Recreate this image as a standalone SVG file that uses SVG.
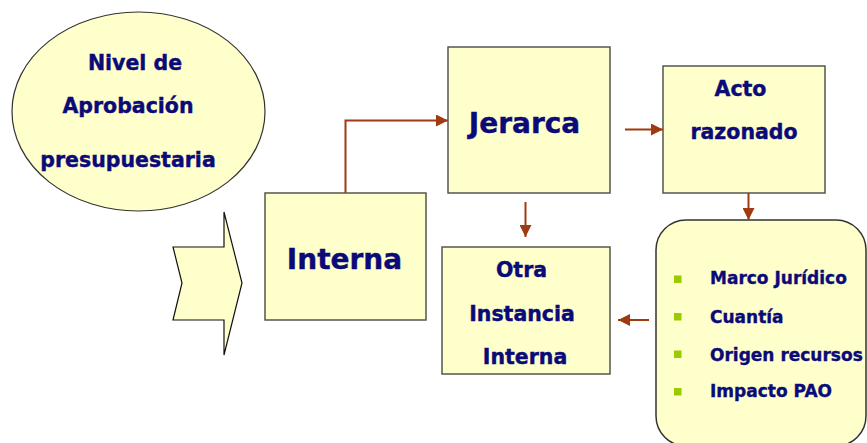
<svg xmlns="http://www.w3.org/2000/svg" width="867" height="443" viewBox="0 0 867 443">
<style>
.box{fill:#FFFFCC;stroke:#555550;stroke-width:1.5}
.t{font-family:"DejaVu Sans",Verdana,sans-serif;font-weight:bold;fill:#0A0A78;stroke:#0A0A78;stroke-width:0.4;text-anchor:middle}
.s20{font-size:20.5px}
.s28{font-size:28px}
.li{font-family:"DejaVu Sans",Verdana,sans-serif;font-weight:bold;fill:#0A0A78;stroke:#0A0A78;stroke-width:0.35;font-size:17px}
.c{fill:none;stroke:#A03A10;stroke-width:2}
.b{fill:#99CC00}
</style>
<defs>
<marker id="ah" markerUnits="userSpaceOnUse" markerWidth="12" markerHeight="12" viewBox="0 0 10 10" refX="10" refY="5" orient="auto">
<path d="M0,0 L10,5 L0,10 z" fill="#A03A10"/>
</marker>
</defs>
<rect width="867" height="443" fill="#FFFFFF"/>
<g id="nivel">
<ellipse class="box" cx="138.5" cy="111.5" rx="126.5" ry="99.5" style="stroke:#333;stroke-width:1.2"/>
<text class="t s20" x="135" y="70">Nivel de</text>
<text class="t s20" x="128" y="113">Aprobación</text>
<text class="t s20" x="128" y="167">presupuestaria</text>
</g>
<g id="chevron">
<polygon class="box" points="173,247 224,247 224,212 242,283 224,355 224,320 173,320 182,283" style="stroke:#111;stroke-width:1.2"/>
</g>
<g id="interna">
<rect class="box" x="265" y="193" width="161" height="127"/>
<text class="t s28" x="344.5" y="269">Interna</text>
</g>
<g id="jerarca">
<rect class="box" x="448" y="47" width="162" height="146"/>
<text class="t s28" x="524.5" y="133">Jerarca</text>
</g>
<g id="acto">
<rect class="box" x="663" y="66" width="162" height="127"/>
<text class="t s20" x="740.5" y="96">Acto</text>
<text class="t s20" x="744" y="139">razonado</text>
</g>
<g id="otra">
<rect class="box" x="442" y="247" width="168" height="127"/>
<text class="t s20" x="521.5" y="277">Otra</text>
<text class="t s20" x="522" y="321">Instancia</text>
<text class="t s20" x="525" y="364">Interna</text>
</g>
<g id="criterios">
<rect class="box" x="656" y="220" width="210" height="226" rx="30" style="stroke:#333;stroke-width:1.5"/>
<rect class="b" x="674" y="275.5" width="7.5" height="7.5"/>
<rect class="b" x="674" y="313" width="7.5" height="7.5"/>
<rect class="b" x="674" y="350.5" width="7.5" height="7.5"/>
<rect class="b" x="674" y="388" width="7.5" height="7.5"/>
<text class="li" x="710" y="284">Marco Jurídico</text>
<text class="li" x="710" y="322.5">Cuantía</text>
<text class="li" x="710" y="360.5">Origen recursos</text>
<text class="li" x="710" y="397">Impacto PAO</text>
</g>
<g id="connectors">
<path class="c" d="M345.5,193 V120.5 H448" marker-end="url(#ah)"/>
<path class="c" d="M625,129.5 H663" marker-end="url(#ah)"/>
<path class="c" d="M748.5,193 V220" marker-end="url(#ah)"/>
<path class="c" d="M525.5,202 V237" marker-end="url(#ah)"/>
<path class="c" d="M649,320 H618" marker-end="url(#ah)"/>
</g>
</svg>
